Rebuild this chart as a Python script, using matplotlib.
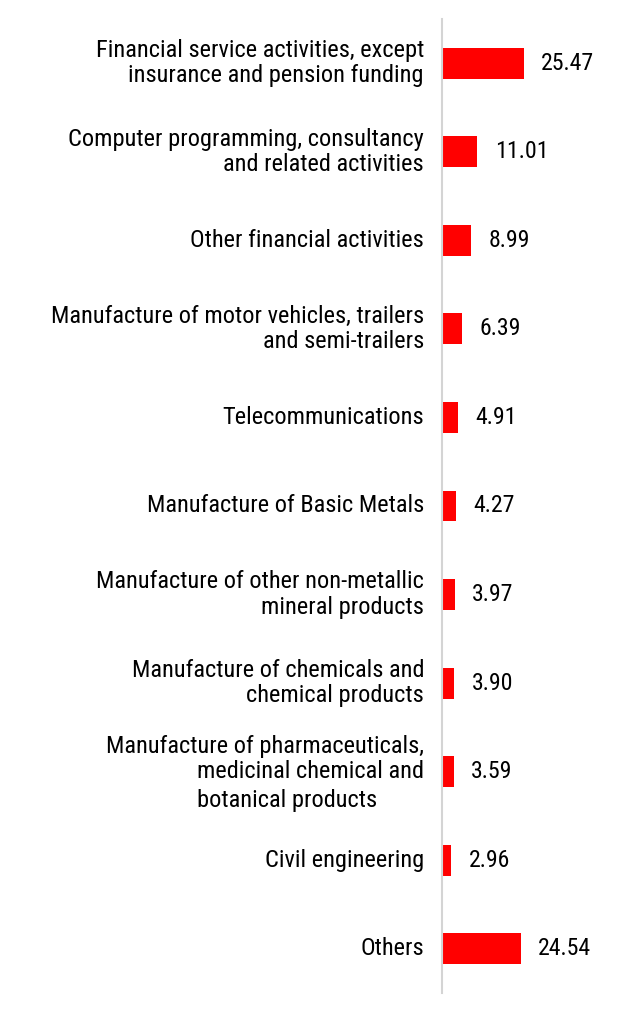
import matplotlib
matplotlib.use('Agg')
import matplotlib.pyplot as plt
from matplotlib import transforms

categories = [
    "Financial service activities, except\ninsurance and pension funding",
    "Computer programming, consultancy\nand related activities",
    "Other financial activities",
    "Manufacture of motor vehicles, trailers\nand semi-trailers",
    "Telecommunications",
    "Manufacture of Basic Metals",
    "Manufacture of other non-metallic\nmineral products",
    "Manufacture of chemicals and\nchemical products",
    "Manufacture of pharmaceuticals,\nmedicinal chemical and\nbotanical products",
    "Civil engineering",
    "Others",
]
values = [25.47, 11.01, 8.99, 6.39, 4.91, 4.27, 3.97, 3.90, 3.59, 2.96, 24.54]

plt.rcParams['font.family'] = ['Roboto Condensed', 'Roboto', 'DejaVu Sans']

W, H = 622, 1028
fig = plt.figure(figsize=(W / 100, H / 100), dpi=100)
ax = fig.add_axes([442 / W, (H - 993) / H, 180 / W, (993 - 19) / H])

pos = list(range(len(values)))
ax.barh(pos, values, height=0.35, color='#ff0000')
ax.set_ylim(len(values) - 0.5, -0.5)
ax.set_xlim(0, 180 / 3.205)

for s in ['top', 'right', 'bottom']:
    ax.spines[s].set_visible(False)
ax.spines['left'].set_color('#d4d4d4')
ax.spines['left'].set_linewidth(1.5)
ax.set_xticks([])
ax.set_yticks([])

fs = 17.6
vfs = 17.2
tc = '#000000'
ytr = ax.get_yaxis_transform()
lab_tr = transforms.offset_copy(ytr, fig=fig, x=-18, y=0, units='dots')

special = []
for i, lab in enumerate(categories):
    lines = lab.split('\n')
    if len(lines) == 3:
        ax.text(0, i, lines[0], ha='right', va='center', fontsize=fs, color=tc,
                transform=transforms.offset_copy(ytr, fig=fig, x=-18, y=25.5, units='dots'))
        t2 = ax.text(0, i, lines[1], ha='right', va='center', fontsize=fs, color=tc,
                     transform=lab_tr)
        special.append((i, lines[2], t2))
    else:
        ax.text(0, i, lab, ha='right', va='center', fontsize=fs, color=tc,
                transform=lab_tr, linespacing=1.12)

fig.canvas.draw()
r = fig.canvas.get_renderer()
for i, line3, t2 in special:
    bb = t2.get_window_extent(r)
    x0_axes = ax.transAxes.inverted().transform((bb.x0, 0))[0]
    ax.text(x0_axes, i, line3, ha='left', va='center', fontsize=fs, color=tc,
            transform=transforms.offset_copy(ytr, fig=fig, x=0, y=-29, units='dots'))

val_tr = transforms.offset_copy(ax.transData, fig=fig, x=17.5, y=0, units='dots')
for i, v in enumerate(values):
    ax.text(v, i, f'{v:.2f}', ha='left', va='center', fontsize=vfs, color=tc,
            transform=val_tr)

fig.savefig('out.png', dpi=100)
